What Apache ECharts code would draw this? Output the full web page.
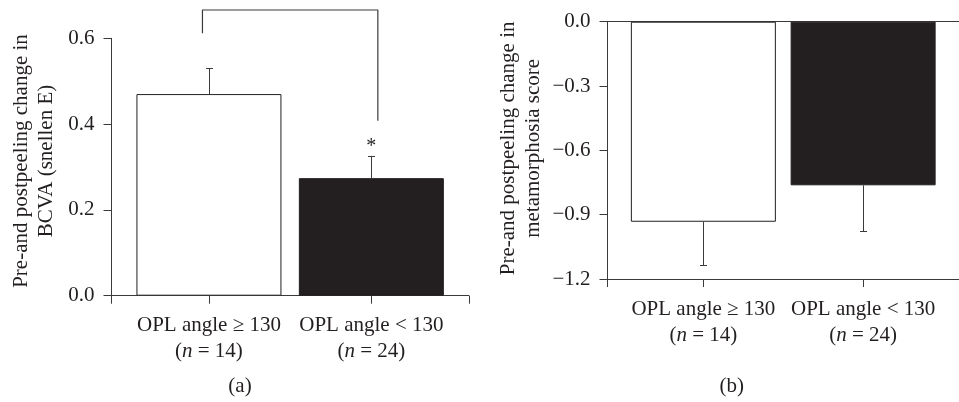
<!DOCTYPE html>
<html><head><meta charset="utf-8">
<script src="https://cdn.jsdelivr.net/npm/echarts@6/dist/echarts.min.js"></script>
<style>html,body{margin:0;padding:0;background:#fff}#c{width:959px;height:402px}</style>
</head><body><div id="c"></div>
<script>
// ---- data ----
const categories = ['OPL angle ≥ 130', 'OPL angle < 130'];
const groupSizes = [14, 24];
const barColors = ['#ffffff', '#231f20'];
const bcvaMean = [0.47, 0.274];
const bcvaErr = [0.06, 0.052];
const bcvaSig = ['', '*'];
const metaMean = [-0.933, -0.763];
const metaErr = [0.202, 0.214];
const bcvaTicks = [0, 0.2, 0.4, 0.6];
const metaTicks = [-1.2, -0.9, -0.6, -0.3, 0];
const bracketX = [0.96, 2.04];
const bracketY = [0.612, 0.666, 0.408];
const panelLabels = ['(a)', '(b)'];
const yTitles = ['Pre-and postpeeling change in\nBCVA (snellen E)', 'Pre-and postpeeling change in\nmetamorphosia score'];

// ---- style ----
const FONT = '"Liberation Serif", "Times New Roman", serif';
const INK = '#231f20';
const LINE = '#3a3a3a';
const FS = 21;
const catPos = categories.map((c, i) => i + 1);

function xAxisFor(gi) {
  return {
    type: 'value', gridIndex: gi, min: 0.4, max: 2.6, position: 'bottom',
    axisLine: { show: true, onZero: false, lineStyle: { color: LINE, width: 1 } },
    axisTick: { show: true, customValues: [0.4].concat(catPos, [2.6]), length: 8, lineStyle: { color: LINE, width: 1 } },
    axisLabel: {
      show: true, customValues: catPos, margin: 17,
      formatter: v => { const i = Math.round(v) - 1; return '{r|' + categories[i] + '}\n{r|(}{i|n}{r| = ' + groupSizes[i] + ')}'; },
      rich: {
        r: { fontFamily: FONT, fontSize: FS, color: INK, lineHeight: 26 },
        i: { fontFamily: FONT, fontSize: FS, fontStyle: 'italic', color: INK, lineHeight: 26 }
      }
    },
    splitLine: { show: false }
  };
}
function yAxisFor(gi, ticks, name, gap, shift) {
  return {
    type: 'value', gridIndex: gi, min: ticks[0], max: ticks[ticks.length - 1],
    axisLine: { show: true, onZero: false, lineStyle: { color: LINE, width: 1 } },
    axisTick: { show: true, customValues: ticks, length: 8, lineStyle: { color: LINE, width: 1 } },
    axisLabel: { customValues: ticks, margin: 17, fontFamily: FONT, fontSize: FS, color: INK,
      formatter: v => (v < -1e-9 ? '\u2212' : '') + Math.abs(v).toFixed(1) },
    splitLine: { show: false },
    name: name, nameLocation: 'middle', nameRotate: 90, nameGap: gap,
    nameTextStyle: { fontFamily: FONT, fontSize: FS, color: INK, lineHeight: 25, padding: [0, 0, 0, shift] }
  };
}
function barSeries(ai, means) {
  return {
    type: 'bar', xAxisIndex: ai, yAxisIndex: ai, barWidth: 145,
    data: means.map((m, i) => ({ value: [catPos[i], m], itemStyle: { color: barColors[i], borderColor: INK, borderWidth: 1 } })),
    z: 2, animation: false
  };
}
function errSeries(ai, means, errs, marks) {
  return {
    type: 'custom', xAxisIndex: ai, yAxisIndex: ai, clip: false, z: 3, animation: false,
    data: means.map((m, i) => [catPos[i], m, m + Math.sign(m) * errs[i]]),
    encode: { x: 0, y: [1, 2] },
    renderItem: (params, api) => {
      const x = api.value(0), m = api.value(1), e = api.value(2);
      const p0 = api.coord([x, m]), p1 = api.coord([x, e]);
      const st = { stroke: LINE, lineWidth: 1 };
      const ch = [
        { type: 'line', shape: { x1: Math.round(p0[0]) + 0.5, y1: p0[1], x2: Math.round(p0[0]) + 0.5, y2: p1[1] }, style: st },
        { type: 'line', shape: { x1: Math.round(p1[0]) - 3, y1: Math.round(p1[1]) + 0.5, x2: Math.round(p1[0]) + 4, y2: Math.round(p1[1]) + 0.5 }, style: st }
      ];
      const mk = marks ? marks[params.dataIndex] : '';
      if (mk) {
        ch.push({ type: 'text', x: p1[0], y: p1[1] + 1,
          style: { text: mk, font: '20px "Liberation Serif"', fill: INK, align: 'center', verticalAlign: 'bottom', textAlign: 'center', textVerticalAlign: 'bottom' } });
      }
      return { type: 'group', children: ch };
    }
  };
}

const option = {
  backgroundColor: '#ffffff',
  animation: false,
  grid: [
    { left: 111.5, top: 38.3, width: 357.3, height: 257.4 },
    { left: 607.5, top: 21.7, width: 357.3, height: 257.3 }
  ],
  xAxis: [
    xAxisFor(0),
    xAxisFor(1),
    { type: 'value', gridIndex: 1, min: 0.4, max: 2.6, position: 'top',
      axisLine: { show: true, onZero: false, lineStyle: { color: LINE, width: 1 } },
      axisTick: { show: false }, axisLabel: { show: false }, splitLine: { show: false } }
  ],
  yAxis: [
    yAxisFor(0, bcvaTicks, yTitles[0], 53, 12),
    yAxisFor(1, metaTicks, yTitles[1], 62, 4)
  ],
  series: [
    barSeries(0, bcvaMean),
    errSeries(0, bcvaMean, bcvaErr, bcvaSig),
    barSeries(1, metaMean),
    errSeries(1, metaMean, metaErr, null),
    {
      type: 'line', xAxisIndex: 0, yAxisIndex: 0, clip: false, symbol: 'none', z: 4, animation: false,
      lineStyle: { color: LINE, width: 1.2 },
      data: [[bracketX[0], bracketY[0]], [bracketX[0], bracketY[1]], [bracketX[1], bracketY[1]], [bracketX[1], bracketY[2]]]
    }
  ],
  graphic: [
    { type: 'text', x: 240, y: 386.5, style: { text: panelLabels[0], font: FS + 'px "Liberation Serif"', fill: INK, align: 'center', verticalAlign: 'middle', textAlign: 'center', textVerticalAlign: 'middle' } },
    { type: 'text', x: 731.7, y: 386.5, style: { text: panelLabels[1], font: FS + 'px "Liberation Serif"', fill: INK, align: 'center', verticalAlign: 'middle', textAlign: 'center', textVerticalAlign: 'middle' } }
  ]
};
const chart = echarts.init(document.getElementById('c'), null, { renderer: 'canvas' });
chart.setOption(option);
</script></body></html>
